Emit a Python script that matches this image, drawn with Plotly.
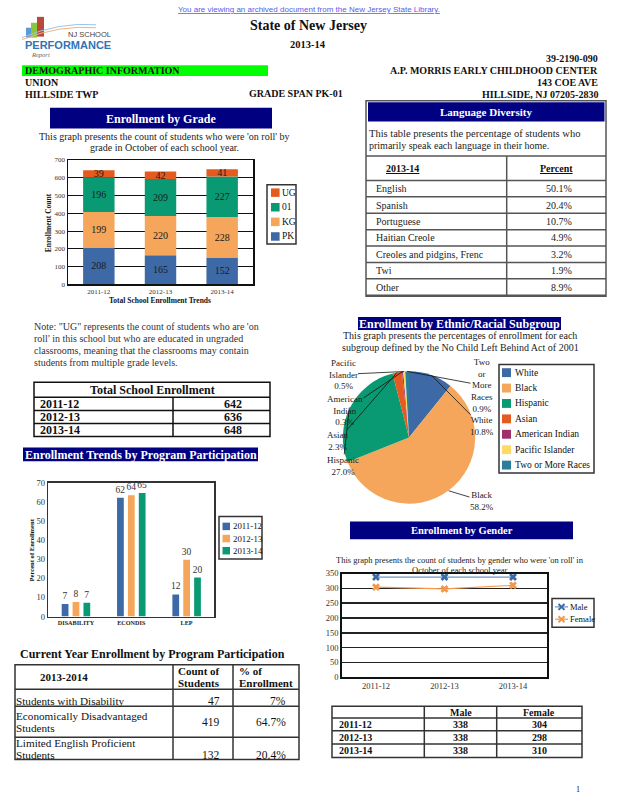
import math
import plotly.graph_objects as go

W, H = 618, 800
SERIF = "Liberation Serif"
SANS = "Liberation Sans"
NAVY = "#000080"


def X(p):
    return p / W


def Y(p):
    return 1 - p / H


# ---------------- data ----------------
grade_years = ["2011-12", "2012-13", "2013-14"]
grade_pk = [208, 165, 152]
grade_kg = [199, 220, 228]
grade_01 = [196, 209, 227]
grade_ug = [39, 42, 41]

lang_names = ["English", "Spanish", "Portuguese", "Haitian Creole",
              "Creoles and pidgins, Frenc", "Twi", "Other"]
lang_pct = [50.1, 20.4, 10.7, 4.9, 3.2, 1.9, 8.9]

total_years = ["2011-12", "2012-13", "2013-14"]
total_enroll = [642, 636, 648]

prog_cats = ["DISABILITY", "ECONDIS", "LEP"]
prog_years = ["2011-12", "2012-13", "2013-14"]
prog_2011 = [6.6, 62.2, 11.6]
prog_2012 = [7.6, 63.6, 29.7]
prog_2013 = [7.3, 64.7, 20.4]

cur_names = ["Students with Disability",
             "Economically Disadvantaged<br>Students",
             "Limited English Proficient<br>Students"]
cur_counts = [47, 419, 132]
cur_pcts = ["7%", "64.7%", "20.4%"]

eth_names = ["White", "Black", "Hispanic", "Asian", "American Indian",
             "Pacific Islander", "Two or More Races"]
eth_label_names = ["White", "Black", "Hispanic", "Asian", "American<br>Indian",
                   "Pacific<br>Islander", "Two<br>or<br>More<br>Races"]
eth_pct = [10.8, 58.2, 27.0, 2.3, 0.3, 0.5, 0.9]

gender_years = ["2011-12", "2012-13", "2013-14"]
gender_male = [338, 338, 338]
gender_female = [304, 298, 310]

# ---------------- styles ----------------
C_BLUE = "#3D6AA6"
C_ORANGE = "#F5A65B"
C_GREEN = "#0A9A73"
C_RED = "#E55A1F"
grade_series = [("PK", grade_pk, C_BLUE), ("KG", grade_kg, C_ORANGE),
                ("01", grade_01, C_GREEN), ("UG", grade_ug, C_RED)]
prog_colors = [C_BLUE, C_ORANGE, C_GREEN]
eth_colors = [C_BLUE, C_ORANGE, C_GREEN, C_RED, "#A0306A", "#FFD966", "#2A7E9C"]

shapes = []
annotations = []


def txt(x, y, text, size=10, color="#111", xanchor="center", yanchor="middle",
        family=SERIF, angle=0):
    annotations.append(dict(x=X(x), y=Y(y), xref="paper", yref="paper", text=text,
                            showarrow=False, xanchor=xanchor, yanchor=yanchor,
                            textangle=angle, borderpad=0,
                            font=dict(family=family, size=size, color=color)))


def rect(x0, y0, x1, y1, fill=None, line_color=None, lw=0, layer="above"):
    d = dict(type="rect", xref="paper", yref="paper", x0=X(x0), x1=X(x1),
             y0=Y(y1), y1=Y(y0), layer=layer,
             line=dict(color=line_color or "rgba(0,0,0,0)", width=lw))
    if fill:
        d["fillcolor"] = fill
    shapes.append(d)


def hline(x0, x1, y, color="#333", lw=1.5):
    shapes.append(dict(type="line", xref="paper", yref="paper", x0=X(x0), x1=X(x1),
                       y0=Y(y), y1=Y(y), line=dict(color=color, width=lw)))


def vline(x, y0, y1, color="#333", lw=1.5):
    shapes.append(dict(type="line", xref="paper", yref="paper", x0=X(x), x1=X(x),
                       y0=Y(y0), y1=Y(y1), line=dict(color=color, width=lw)))


def cell(x0, x1, y0, y1, text, align="left", pad=4, size=10, valign="middle",
         color="#111", bold=False, underline=False, line_h=12.8, bottom_gap=4.7):
    lines = str(text).split("<br>")
    if align == "left":
        x, xa = x0 + pad, "left"
    elif align == "right":
        x, xa = x1 - pad, "right"
    else:
        x, xa = (x0 + x1) / 2, "center"
    n = len(lines)
    if valign == "bottom":
        last = y1 - bottom_gap
    else:
        last = (y0 + y1) / 2 + (n - 1) * line_h / 2
    for k, ln in enumerate(lines):
        yy = last - (n - 1 - k) * line_h
        t = ln
        if underline:
            t = "<u>%s</u>" % t
        if bold:
            t = "<b>%s</b>" % t
        txt(x, yy, t, size=size, color=color, xanchor=xa)


def navy_box(x0, y0, x1, y1, text, size, xanchor="center"):
    rect(x0, y0, x1, y1, fill=NAVY)
    if xanchor == "center":
        txt((x0 + x1) / 2, (y0 + y1) / 2 + 0.5, "<b>%s</b>" % text, size=size, color="white")
    else:
        txt(x0 + 1, (y0 + y1) / 2 + 0.5, "<b>%s</b>" % text, size=size, color="white",
            xanchor="left")


fig = go.Figure()

# ---------------- Enrollment by Grade (stacked) ----------------
base = [0, 0, 0]
for name, vals, col in grade_series:
    fig.add_trace(go.Bar(
        x=grade_years, y=vals, base=list(base), name=name, width=0.51, offset=-0.255,
        marker=dict(color=col, line=dict(width=0)),
        text=[str(v) for v in vals], textposition="inside", insidetextanchor="middle",
        textangle=0, constraintext="none",
        insidetextfont=dict(family=SERIF, size=10, color="#1a1a1a"),
        xaxis="x", yaxis="y", showlegend=False, hoverinfo="skip"))
    base = [b + v for b, v in zip(base, vals)]

# ---------------- Program participation (grouped) ----------------
for name, vals, col in zip(prog_years, [prog_2011, prog_2012, prog_2013], prog_colors):
    fig.add_trace(go.Bar(
        x=prog_cats, y=vals, name=name, marker=dict(color=col, line=dict(width=0)),
        texttemplate="%{y:.0f}", textposition="outside", constraintext="none",
        textfont=dict(family=SERIF, size=9.5, color="#333"), cliponaxis=False,
        xaxis="x2", yaxis="y2", showlegend=False, hoverinfo="skip"))

# ---------------- Gender lines ----------------
fig.add_trace(go.Scatter(
    x=gender_years, y=gender_male, mode="lines+markers", name="Male",
    line=dict(color="#6F93C8", width=1.2),
    marker=dict(symbol="x", size=7, color=C_BLUE),
    xaxis="x3", yaxis="y3", showlegend=False, hoverinfo="skip"))
fig.add_trace(go.Scatter(
    x=gender_years, y=gender_female, mode="lines+markers", name="Female",
    line=dict(color="#F79646", width=1.2),
    marker=dict(symbol="x", size=7, color="#F79646"),
    xaxis="x3", yaxis="y3", showlegend=False, hoverinfo="skip"))

# ---------------- Ethnic pie ----------------
pie_cx, pie_cy, pie_r = 409.0, 438.0, 67.0
fig.add_trace(go.Pie(
    labels=eth_names, values=eth_pct, sort=False, direction="clockwise", rotation=0,
    marker=dict(colors=eth_colors, line=dict(width=0)), textinfo="none",
    domain=dict(x=[X(pie_cx - pie_r), X(pie_cx + pie_r)],
                y=[Y(pie_cy + pie_r), Y(pie_cy - pie_r)]),
    showlegend=False, hoverinfo="skip"))

eth_label_pos = [(482, 426), (482, 502), (343, 466), (337, 441), (345, 410),
                 (343, 374), (482, 385)]
tot = sum(eth_pct)
cum = 0.0
for lname, v, (lx, ly) in zip(eth_label_names, eth_pct, eth_label_pos):
    ang = 2 * math.pi * (cum + v / 2) / tot
    cum += v
    hx = pie_cx + pie_r * math.sin(ang)
    hy = pie_cy - pie_r * math.cos(ang)
    annotations.append(dict(
        x=X(hx), y=Y(hy), xref="paper", yref="paper",
        text="%s<br>%.1f%%" % (lname, v), showarrow=True, arrowhead=0,
        arrowwidth=0.8, arrowcolor="#111", ax=lx - hx, ay=ly - hy, standoff=0,
        borderpad=0, font=dict(family=SERIF, size=9, color="#222")))

# ---------------- header area ----------------
txt(309, 5, "<u>You are viewing an archived document from the New Jersey State Library.</u>",
    size=8, family=SANS, color="#5a5af0")
# logo
rect(26, 23, 31, 33, fill="#5b9bd5")
rect(31, 18, 37, 33, fill="#8cc63f")
rect(37, 12, 44, 32, fill="#b84a3c")
shapes.append(dict(type="path", xref="paper", yref="paper",
                   path="M %f,%f Q %f,%f %f,%f" % (X(22), Y(35), X(60), Y(20), X(96), Y(23)),
                   line=dict(color="#f4b183", width=1)))
shapes.append(dict(type="path", xref="paper", yref="paper",
                   path="M %f,%f Q %f,%f %f,%f" % (X(22), Y(33), X(60), Y(17), X(96), Y(20)),
                   line=dict(color="#9dc3e6", width=1)))
txt(89, 29.5, "NJ SCHOOL", size=7.5, family=SANS, color="#444")
txt(68, 40, "<b>PERFORMANCE</b>", size=11, family=SANS, color="#2f75b5")
txt(40, 50.5, "<i>Report</i>", size=6.5, color="#666")

txt(308, 21, "<b>State of New Jersey</b>", size=14)
txt(308, 40, "<b>2013-14</b>", size=10.5)
for yy, t in [(54, "39-2190-090"), (66.5, "A.P. MORRIS EARLY CHILDHOOD CENTER"),
              (78.5, "143 COE AVE"), (90.5, "HILLSIDE, NJ 07205-2830")]:
    txt(599, yy, "<b>%s</b>" % t, size=10, xanchor="right")
rect(22, 61, 268, 72, fill="#00FF00")
txt(24, 66.5, "<b>DEMOGRAPHIC INFORMATION</b>", size=10, xanchor="left")
txt(24, 78.5, "<b>UNION</b>", size=10, xanchor="left")
txt(24, 90.5, "<b>HILLSIDE TWP</b>", size=10, xanchor="left")
txt(248, 89.5, "<b>GRADE SPAN PK-01</b>", size=10, xanchor="left")

# ---------------- grade section text ----------------
navy_box(50, 104, 272, 125, "Enrollment by Grade", 12)
txt(164, 133, "This graph presents the count of students who were 'on roll' by", size=10, color="#222")
txt(164, 144.5, "grade in October of each school year.", size=10, color="#222")
txt(48, 220, "<b>Enrollment Count</b>", size=7.5, angle=-90)
txt(160, 299, "<b>Total School Enrollment Trends</b>", size=7.5)
# legend (top to bottom)
rect(267, 182, 296, 242, fill="white", line_color="#333", lw=1.5)
for i, (name, vals, col) in enumerate(reversed(grade_series)):
    yc = 190 + i * 14.8
    rect(271, yc - 4.3, 279.6, yc + 4.3, fill=col)
    txt(281, yc, name, size=9.5, xanchor="left")

# ---------------- language table ----------------
rect(366, 97, 606, 295, line_color="#555", lw=1.5)
navy_box(368, 98.5, 604.5, 118, "Language Diversity", 11)
txt(368, 130, "This table presents the percentage of students who", size=10.5, xanchor="left", color="#222")
txt(368, 142, "primarily speak each language in their home.", size=10, xanchor="left", color="#222")
lx0, lx1, lx2 = 366, 506.7, 606
ly = [153, 177.7] + [177.7 + 16.6 * (i + 1) for i in range(len(lang_names))]
for yy in ly:
    hline(lx0, lx2, yy, color="#555", lw=1.5)
vline(lx1, ly[0], ly[-1], color="#555", lw=1.5)
cell(lx0, lx1, ly[0], ly[1], "2013-14", align="left", pad=19, size=10, bold=True, underline=True)
cell(lx1, lx2, ly[0], ly[1], "Percent", align="center", size=10, bold=True, underline=True)
for i, (n, p) in enumerate(zip(lang_names, lang_pct)):
    cell(lx0, lx1, ly[i + 1], ly[i + 2], n, align="left", pad=9, size=10, color="#222")
    cell(lx1, lx2, ly[i + 1], ly[i + 2], "%.1f%%" % p, align="right", pad=33, size=10, color="#222")

# ---------------- note ----------------
for i, line in enumerate(["Note: \"UG\" represents the count of students who are 'on",
                          "roll' in this school but who are educated in ungraded",
                          "classrooms, meaning that the classrooms may contain",
                          "students from multiple grade levels."]):
    txt(33, 326 + 12 * i, line, size=10, xanchor="left", color="#333")

# ---------------- total enrollment table ----------------
tx = [34, 173, 270]
ty = [382, 397.3, 410.7, 423.7, 437]
rect(tx[0], ty[0], tx[2], ty[-1], line_color="#111", lw=1.5)
for yy in ty[1:-1]:
    hline(tx[0], tx[2], yy, color="#111", lw=1.5)
vline(tx[1], ty[1], ty[-1], color="#111", lw=1.5)
cell(tx[0], tx[2], ty[0], ty[1], "Total School Enrollment", align="center", size=12, bold=True)
for i, (yr, v) in enumerate(zip(total_years, total_enroll)):
    cell(tx[0], tx[1], ty[i + 1], ty[i + 2], yr, align="left", pad=5, size=12, bold=True)
    cell(tx[1], tx[2], ty[i + 1], ty[i + 2], str(v), align="right", pad=27, size=12, bold=True)

# ---------------- program section text ----------------
navy_box(23, 448, 258, 462, "Enrollment Trends by Program Participation", 12, xanchor="left")
txt(31.7, 551.7, "<b>Percent of Enrollment</b>", size=6.6, angle=-90)
rect(219, 518, 262, 561, fill="white", line_color="#333", lw=1.5)
for i, (name, col) in enumerate(zip(prog_years, prog_colors)):
    yc = 528 + i * 12.3
    rect(222.5, yc - 3.8, 230, yc + 3.8, fill=col)
    txt(231.5, yc, name, size=8.8, xanchor="left")

# ---------------- current year table ----------------
txt(19, 657, "<b>Current Year Enrollment by Program Participation</b>", size=12, xanchor="left")
cx = [15, 173, 233, 299]
cy = [668, 693, 710, 741.5, 764]
rect(cx[0], cy[0], cx[-1], cy[-1], line_color="#333", lw=1.5)
for yy in cy[1:-1]:
    hline(cx[0], cx[-1], yy)
for xx in cx[1:-1]:
    vline(xx, cy[0], cy[-1])
cell(cx[0], cx[1], cy[0], cy[1], "2013-2014", align="left", pad=24, size=11, bold=True)
cell(cx[1], cx[2], cy[0], cy[1], "Count of<br>Students", align="left", pad=4, size=11,
     bold=True, line_h=12.8)
cell(cx[2], cx[3], cy[0], cy[1], "% of<br>Enrollment", align="left", pad=5, size=11,
     bold=True, line_h=12.8)
name_valign = ["bottom", "middle", "bottom"]
val_valign = ["bottom", "middle", "bottom"]
for i, (n, c, p) in enumerate(zip(cur_names, cur_counts, cur_pcts)):
    cell(cx[0], cx[1], cy[i + 1], cy[i + 2], n, align="left", pad=0, size=11.2,
         valign=name_valign[i], line_h=12.3)
    cell(cx[1], cx[2], cy[i + 1], cy[i + 2], str(c), align="right", pad=12, size=11.5,
         valign=val_valign[i])
    cell(cx[2], cx[3], cy[i + 1], cy[i + 2], p, align="right", pad=12, size=11.5,
         valign=val_valign[i])

# ---------------- ethnic section text ----------------
navy_box(358, 316, 561, 329, "Enrollment by Ethnic/Racial Subgroup", 12)
txt(460, 335, "This graph presents the percentages of enrollment for each", size=10, color="#222")
txt(460, 347, "subgroup defined by the No Child Left Behind Act of 2001", size=10, color="#222")
rect(499, 364, 594, 474, fill="white", line_color="#333", lw=1.5)
for i, (name, col) in enumerate(zip(eth_names, eth_colors)):
    yc = 372.3 + i * 15.6
    rect(502, yc - 4.5, 511, yc + 4.5, fill=col)
    txt(514, yc, name, size=9.5, xanchor="left")

# ---------------- gender section text ----------------
navy_box(350, 523, 573, 541, "Enrollment by Gender", 10.5)
txt(460, 562, "This graph presents the count of students by gender who were 'on roll' in", size=8.5, color="#222")
txt(460, 572.5, "October of each school year.", size=8.5, color="#222")
rect(552, 601, 594, 630, fill="white", line_color="#333", lw=1.5)
for i, (name, lcol, mcol) in enumerate([("Male", "#6F93C8", C_BLUE), ("Female", "#F79646", "#F79646")]):
    yc = 609.5 + i * 12.5
    hline(555, 568, yc, color=lcol, lw=1.2)
    shapes.append(dict(type="line", xref="paper", yref="paper", x0=X(558.5), x1=X(564.5),
                       y0=Y(yc - 3), y1=Y(yc + 3), line=dict(color=mcol, width=2)))
    shapes.append(dict(type="line", xref="paper", yref="paper", x0=X(558.5), x1=X(564.5),
                       y0=Y(yc + 3), y1=Y(yc - 3), line=dict(color=mcol, width=2)))
    txt(568.5, yc, name, size=8.5, xanchor="left")

# ---------------- gender table ----------------
gx = [332, 424.3, 496.7, 582]
gy = [710, 722, 735, 748.3, 762]
rect(gx[0], gy[0], gx[-1], gy[-1], line_color="#333", lw=1.5)
for yy in gy[1:-1]:
    hline(gx[0], gx[-1], yy)
for xx in gx[1:-1]:
    vline(xx, gy[0], gy[-1])
cell(gx[1], gx[2], gy[0], gy[1], "Male", align="center", size=10, bold=True)
cell(gx[2], gx[3], gy[0], gy[1], "Female", align="center", size=10, bold=True)
for i, (yr, m, f) in enumerate(zip(gender_years, gender_male, gender_female)):
    cell(gx[0], gx[1], gy[i + 1], gy[i + 2], yr, align="left", pad=6, size=10, bold=True)
    cell(gx[1], gx[2], gy[i + 1], gy[i + 2], str(m), align="center", size=10, bold=True)
    cell(gx[2], gx[3], gy[i + 1], gy[i + 2], str(f), align="center", size=10, bold=True)

txt(578, 794, "1", size=8)

# ---------------- axes ----------------
axis_common = dict(showline=True, mirror=True, zeroline=False, fixedrange=True)
fig.update_layout(
    width=W, height=H, autosize=False,
    margin=dict(l=0, r=0, t=0, b=0),
    paper_bgcolor="white", plot_bgcolor="white",
    showlegend=False, barmode="group", bargap=0.41, bargroupgap=0.38,
    font=dict(family=SERIF, color="#222"),
    xaxis=dict(domain=[X(68), X(253)], anchor="y", type="category", range=[-0.5, 2.5],
               linecolor="#111", linewidth=1.5, showgrid=False, ticks="",
               tickfont=dict(family=SERIF, size=7, color="#333"), **axis_common),
    yaxis=dict(domain=[Y(283), Y(157)], anchor="x", range=[0, 700], dtick=100,
               showgrid=True, gridcolor="#111", gridwidth=1, linecolor="#111", linewidth=1.5,
               ticks="", tickfont=dict(family=SERIF, size=7, color="#333"),
               **axis_common),
    xaxis2=dict(domain=[X(48.3), X(214.3)], anchor="y2", type="category", range=[-0.5, 2.5],
                linecolor="#333", linewidth=1.5, showgrid=False, ticks="",
                tickfont=dict(family=SERIF, size=6.2, color="#222", weight="bold"), **axis_common),
    yaxis2=dict(domain=[Y(619.3), Y(484)], anchor="x2", range=[0, 70], dtick=10,
                showgrid=False, linecolor="#333", linewidth=1.5, ticks="",
                tickfont=dict(family=SERIF, size=8.5, color="#333"), **axis_common),
    xaxis3=dict(domain=[X(341.7), X(547.3)], anchor="y3", type="category", range=[-0.5, 2.5],
                linecolor="#111", linewidth=1.5, showgrid=False, ticks="",
                tickfont=dict(family=SERIF, size=8.5, color="#333"), **axis_common),
    yaxis3=dict(domain=[Y(680.7), Y(575.7)], anchor="x3", range=[0, 350], dtick=50,
                showgrid=True, gridcolor="#222", gridwidth=1.5, linecolor="#111", linewidth=1.5,
                ticks="", tickfont=dict(family=SERIF, size=8.5, color="#333"),
                **axis_common),
    shapes=shapes, annotations=annotations,
)

fig.write_html(
    "out.html",
    config={"displayModeBar": False, "staticPlot": True},
    post_script=("document.documentElement.style.margin='0px';"
                 "document.body.style.margin='0px';document.body.style.overflow='hidden';"
                 "var d=document.getElementById('{plot_id}');"
                 "d.style.position='absolute';d.style.left='0px';d.style.top='0px';"),
)
